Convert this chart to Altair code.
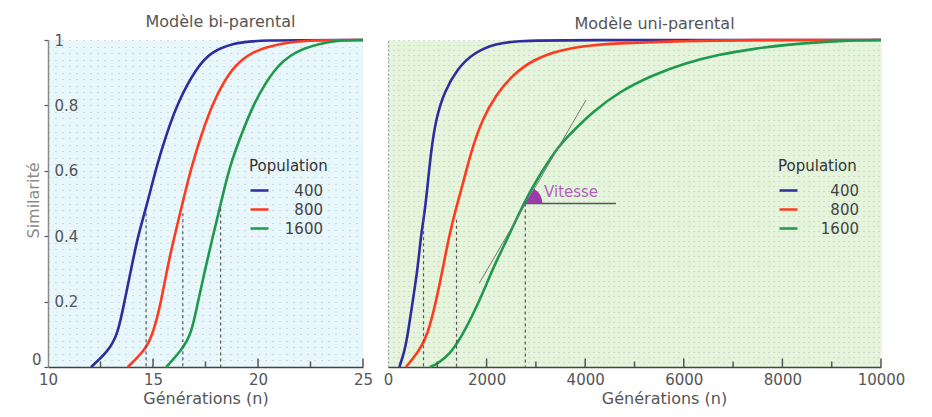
import altair as alt
import pandas as pd

populations = ["400", "800", "1600"]
colors = ["#2d2d9e", "#ff3b1f", "#1f9a4c"]

# Modèle bi-parental (x: générations, y: similarité)
bi_400_x = [12.05, 12.85, 13.32, 13.64, 13.96, 14.28, 14.75, 15.15, 15.63, 16.18, 17.06, 17.77, 18.87, 19.8, 25]
bi_400_y = [0, 0.047, 0.098, 0.2, 0.3, 0.4, 0.505, 0.61, 0.71, 0.81, 0.914, 0.965, 0.99, 1.0, 1.0]
bi_800_x = [13.8, 14.6, 14.99, 15.39, 15.67, 16.02, 16.42, 16.82, 17.3, 17.85, 18.73, 19.68, 21.1, 22.5, 25]
bi_800_y = [0, 0.05, 0.098, 0.2, 0.3, 0.4, 0.505, 0.61, 0.71, 0.81, 0.914, 0.965, 0.99, 1.0, 1.0]
bi_1600_x = [15.63, 16.34, 16.82, 17.14, 17.49, 17.85, 18.25, 18.63, 19.2, 19.82, 20.78, 21.73, 23.0, 24.0, 25]
bi_1600_y = [0, 0.05, 0.098, 0.2, 0.3, 0.4, 0.505, 0.61, 0.71, 0.81, 0.914, 0.965, 0.99, 1.0, 1.0]
bi_half_x = [14.67, 16.42, 18.22]
bi_half_y = [0.47, 0.47, 0.485]
bi_ticks_major = [15, 20, 25]
bi_ticks_minor = [12.5, 17.5, 22.5]
bi_labels = [10, 15, 20, 25]

# Modèle uni-parental
uni_400_x = [230, 330, 400, 500, 602, 669, 737, 805, 872, 974, 1142, 1413, 1717, 2190, 2663, 3200, 10000]
uni_400_y = [0, 0.045, 0.098, 0.2, 0.3, 0.404, 0.465, 0.557, 0.659, 0.76, 0.842, 0.913, 0.959, 0.99, 0.997, 1.0, 1.0]
uni_800_x = [365, 635, 804, 974, 1110, 1245, 1380, 1515, 1684, 1920, 2190, 2528, 2934, 3475, 4150, 4692, 6000, 7200, 10000]
uni_800_y = [0, 0.05, 0.098, 0.2, 0.3, 0.404, 0.486, 0.557, 0.659, 0.76, 0.832, 0.893, 0.939, 0.97, 0.985, 0.99, 0.997, 1.0, 1.0]
uni_1600_x = [850, 1000, 1244, 1515, 1785, 1988, 2190, 2460, 2732, 3070, 3475, 3746, 4152, 4692, 5369, 6045, 6700, 7400, 8100, 8800, 9500, 10000]
uni_1600_y = [0, 0.01, 0.037, 0.098, 0.18, 0.25, 0.322, 0.404, 0.495, 0.587, 0.679, 0.72, 0.78, 0.842, 0.893, 0.93, 0.955, 0.973, 0.986, 0.994, 0.999, 1.0]
uni_half_x = [720, 1390, 2785]
uni_half_y = [0.47, 0.45, 0.5]
uni_ticks_major = [2000, 4000, 6000, 8000, 10000]
uni_ticks_minor = [1000, 3000, 5000, 7000, 9000]
uni_labels = [0, 2000, 4000, 6000, 8000, 10000]

tangent_x = [1850, 4015]
tangent_y = [0.256, 0.816]
speed_x = [2785, 4625]
speed_y = [0.5, 0.5]
speed_label = ["Vitesse"]
speed_label_x = [3165]
speed_label_y = [0.535]

FONT = "DejaVu Sans"
MAJOR = "abs(datum.value * 5 - round(datum.value * 5)) < 0.001"
grid_left = [round(i * 0.02, 2) for i in range(51)]
grid_right = [round(i * 0.0154, 4) for i in range(65)] + [1.0]


def curves(xs, ys):
    rows = []
    for pop, x, y in zip(populations, xs, ys):
        for a, b in zip(x, y):
            rows.append({"n": a, "s": b, "Population": pop})
    return pd.DataFrame(rows)


def make_xaxis(labels, xtitle_x):
    return alt.Axis(values=labels, format="d", ticks=False, grid=False, domainColor="#444",
                    domainWidth=1.5, labelFontSize=15, labelColor="#555",
                    labelPadding=5, labelFlush=False, labelOverlap=False,
                    title="Générations (n)", titleFontSize=16, titleColor="#555",
                    titleFontWeight="normal", titlePadding=3, titleX=xtitle_x)


def panel(df, half_x, half_y, t_major, t_minor, labels, xdom, width, title, dx,
          yaxis, xtitle_x, legend_x, label_offset, bg, extra=None):
    xs = alt.Scale(domain=xdom, nice=False, zero=False)
    ys = alt.Scale(domain=[0, 1], nice=False, zero=False)
    xaxis = make_xaxis(labels, xtitle_x)

    def X(field=None, datum=None):
        if datum is not None:
            return alt.X(datum=datum, scale=xs, axis=xaxis)
        return alt.X(field, type="quantitative", scale=xs, axis=xaxis)

    def Y(field=None, datum=None):
        if datum is not None:
            return alt.Y(datum=datum, scale=ys, axis=yaxis)
        return alt.Y(field, type="quantitative", scale=ys, axis=yaxis)

    lines = alt.Chart(df).mark_line(strokeWidth=2.6, interpolate="basis").encode(
        x=X("n"),
        y=Y("s"),
        color=alt.Color("Population:N",
                        scale=alt.Scale(domain=populations, range=colors),
                        legend=alt.Legend(title="Population", orient="none",
                                          legendX=legend_x, legendY=119,
                                          titleFontSize=15, titleFontWeight="normal",
                                          titleColor="#333", titlePadding=6,
                                          labelFontSize=15, labelColor="#444",
                                          labelAlign="right", labelOffset=label_offset,
                                          symbolType="stroke", symbolSize=324,
                                          symbolStrokeWidth=2.5, rowPadding=0,
                                          padding=0)),
        order=alt.Order("n:Q"),
    )
    half = alt.Chart(pd.DataFrame({"n": half_x, "s": half_y})).mark_rule(
        color="#555", strokeDash=[3, 3], strokeWidth=1.2).encode(
        x=X("n"), y=Y("s"), y2=alt.datum(0))
    tmaj = alt.Chart(pd.DataFrame({"n": t_major})).mark_rule(
        color="#555", strokeWidth=1.5).encode(
        x=X("n"), y=Y(datum=0), y2=alt.datum(0.026))
    tmin = alt.Chart(pd.DataFrame({"n": t_minor})).mark_rule(
        color="#555", strokeWidth=1.5).encode(
        x=X("n"), y=Y(datum=0), y2=alt.datum(0.017))
    layers = [lines, half, tmaj, tmin]
    if extra is not None:
        layers = layers + extra(X, Y)
    return alt.layer(*layers).properties(
        width=width, height=327,
        title=alt.TitleParams(title, fontSize=16, fontWeight="normal", color="#555",
                              offset=3, dx=dx),
        view=alt.ViewBackground(fill=bg, stroke="transparent"),
    )


def speed_marks(X, Y):
    tang = alt.Chart(pd.DataFrame({"n": tangent_x, "s": tangent_y})).mark_line(
        color="#777", strokeWidth=1).encode(x=X("n"), y=Y("s"))
    horiz = alt.Chart(pd.DataFrame({"n": speed_x, "s": speed_y})).mark_line(
        color="#555", strokeWidth=1.5).encode(x=X("n"), y=Y("s"))
    wedge = alt.Chart(pd.DataFrame({"n": speed_x[:1], "s": speed_y[:1]})).mark_arc(
        theta=0.527, theta2=1.5708, radius=17, color="#9c3ca8").encode(
        x=X("n"), y=Y("s"))
    txt = alt.Chart(pd.DataFrame({"n": speed_label_x, "s": speed_label_y,
                                  "t": speed_label})).mark_text(
        align="left", baseline="middle", fontSize=15, color="#b25fc0").encode(
        x=X("n"), y=Y("s"), text="t:N")
    return [tang, horiz, wedge, txt]


yaxis_left = alt.Axis(
    values=grid_left, title="Similarité", titleX=-15, titleY=160, titleAngle=-90,
    titleAlign="center", titleBaseline="middle", titleFontSize=16,
    titleColor="#8a8a8a", titleFontWeight="normal",
    grid=True, gridDash=[1, 6], gridColor="#b3b6d2", gridWidth=1.2,
    domainColor="#8a8a8a", domainWidth=1.5,
    tickColor="#555", tickSize=4, tickWidth=1.2,
    tickOpacity={"condition": {"test": MAJOR, "value": 1}, "value": 0},
    labelExpr=MAJOR + " ? format(datum.value, '.1~f') : ''",
    labelAlign={"condition": {"test": "datum.value == 0", "value": "right"}, "value": "left"},
    labelPadding={"condition": {"test": "datum.value == 0", "value": 3}, "value": -10},
    labelBaseline={"condition": {"test": "datum.value == 0", "value": "bottom"}, "value": "middle"},
    labelFontSize=15, labelColor="#555", labelFlush=False, labelOverlap=False,
    labelBound=False,
)

yaxis_right = alt.Axis(
    values=grid_right, title=None, labels=False, ticks=False,
    grid=True, gridDash=[1, 4], gridColor="#c2c4bc", gridWidth=1.2,
    domainColor="#999", domainDash=[2, 2], domainWidth=1,
)

left = panel(curves([bi_400_x, bi_800_x, bi_1600_x], [bi_400_y, bi_800_y, bi_1600_y]),
             bi_half_x, bi_half_y, bi_ticks_major, bi_ticks_minor, bi_labels,
             [10, 25], 315, "Modèle bi-parental", 15, yaxis_left, 157.5,
             201, 53, "#e8f7fb")
right = panel(curves([uni_400_x, uni_800_x, uni_1600_x], [uni_400_y, uni_800_y, uni_1600_y]),
              uni_half_x, uni_half_y, uni_ticks_major, uni_ticks_minor, uni_labels,
              [0, 10000], 493, "Modèle uni-parental", 20, yaxis_right, 276,
              390, 60, "#e5f5dc", extra=speed_marks)

chart = alt.hconcat(left, right, spacing=25, bounds="flush").resolve_scale(
    color="independent", x="independent", y="independent"
).properties(
    padding={"left": 16, "top": 5, "right": 5, "bottom": 2}
).configure(font=FONT)

chart.save("out.html", embed_options={"renderer": "svg", "actions": False})
